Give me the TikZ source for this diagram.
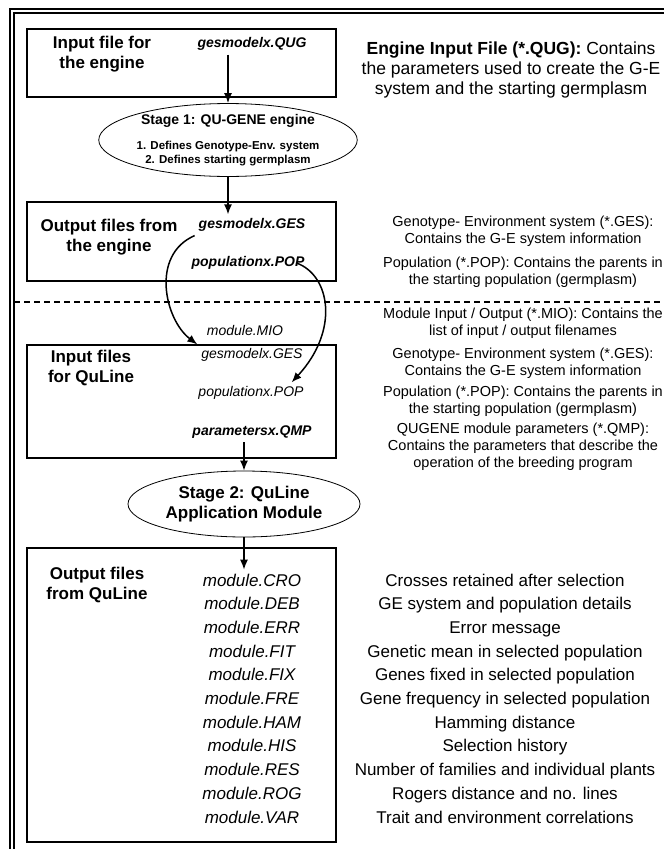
\documentclass[tikz,border=0pt]{standalone}
\usepackage{fontspec}
\setmainfont{Liberation Sans}
\usetikzlibrary{shapes.geometric,arrows.meta}
\begin{document}
\begin{tikzpicture}[
        x=1pt, y=-1pt,
        ->, >={Latex[length=10pt,width=8pt]}, line width=1.5pt,
        filebox/.style={draw, line width=1.3pt, minimum width=309pt, inner sep=0pt},
        stagebox/.style={draw, ellipse, line width=0.8pt, align=center, inner sep=0pt},
        head/.style={align=center, font=\fontsize{17}{20}\selectfont\bfseries},
        fname/.style={font=\fontsize{14}{17}\selectfont\itshape},
        fbold/.style={font=\fontsize{14}{17}\selectfont\bfseries\itshape},
        note/.style={align=center, font=\fontsize{14.5}{17}\selectfont},
        biglist/.style={align=center, font=\fontsize{17}{23.7}\selectfont}
    ]
        \clip (0,0) rectangle (664,849);

        % outer frame (double line)
        \draw[-, line width=2.2pt] (10,849) -- (10,9) -- (664,9);
        \draw[-, line width=1.2pt] (14,849) -- (14,13) -- (664,13);

        % 1. Input file for the engine
        \node[filebox, minimum height=68pt] (inbox) at (181.5, 63) {};
        \node[head] (intitle) at (102, 54) {Input file for\\the engine};
        \node[fbold] (gesqug) at (252, 44) {gesmodelx.QUG};
        \node[align=center, font=\fontsize{17.5}{20}\selectfont] (qugnote) at (511, 70) {
            \textbf{Engine Input File (*.QUG):} Contains\\
            the parameters used to create the G-E\\
            system and the starting germplasm};

        % 2. Stage 1 engine
        \node[stagebox, minimum width=220pt, minimum height=72pt, font=\fontsize{11.5}{14}\selectfont\bfseries] (stage1) at (228, 140) {
            {\fontsize{14}{16}\selectfont Stage 1: QU-GENE engine}\\[11pt]
            1. Defines Genotype-Env. system\\
            2. Defines starting germplasm};

        % 3. Output files from the engine
        \node[filebox, minimum height=79pt] (outbox) at (181.5, 241.5) {};
        \node[head] (outtitle) at (109, 237) {Output files from\\the engine};
        \node[fbold] (gesout) at (252, 225) {gesmodelx.GES};
        \node[fbold] (popout) at (248, 263) {populationx.POP};
        \node[note] (gesoutnote) at (523, 231) {Genotype- Environment system (*.GES):\\Contains the G-E system information};
        \node[note] (popoutnote) at (523, 272) {Population (*.POP): Contains the parents in\\the starting population (germplasm)};

        \draw[-, dashed, dash pattern=on 6pt off 4pt] (14,302) -- (664,302);

        % 4. Input files for QuLine
        \node[fname] (mio) at (245, 330) {module.MIO};
        \node[note] (mionote) at (523, 323) {Module Input / Output (*.MIO): Contains the\\list of input / output filenames};
        \node[filebox, minimum height=113pt] (qinbox) at (181.5, 401.5) {};
        \node[head] (qintitle) at (91, 368) {Input files\\for QuLine};
        \node[fname] (gesin) at (252, 355) {gesmodelx.GES};
        \node[fname] (popin) at (251, 393) {populationx.POP};
        \node[fbold] (qmp) at (252, 432) {parametersx.QMP};
        \node[note] (gesinnote) at (523, 363) {Genotype- Environment system (*.GES):\\Contains the G-E system information};
        \node[note] (popinnote) at (523, 401) {Population (*.POP): Contains the parents in\\the starting population (germplasm)};
        \node[note] (qmpnote) at (523, 447) {QUGENE module parameters (*.QMP):\\Contains the parameters that describe the\\operation of the breeding program};

        % 5. Stage 2 QuLine
        \node[stagebox, minimum width=232pt, minimum height=66pt, font=\fontsize{17}{20}\selectfont\bfseries] (stage2) at (244, 504) {Stage 2: QuLine\\Application Module};

        % 6. Output files from QuLine
        \node[filebox, minimum height=294pt] (qoutbox) at (181.5, 695) {};
        \node[head] (qouttitle) at (97, 585) {Output files\\from QuLine};
        \node[biglist, font=\fontsize{17}{23.7}\selectfont\itshape] (outfiles) at (252, 698.5) {
            module.CRO\\module.DEB\\module.ERR\\module.FIT\\module.FIX\\module.FRE\\
            module.HAM\\module.HIS\\module.RES\\module.ROG\\module.VAR};
        \node[biglist] (outnotes) at (505, 698.5) {
            Crosses retained after selection\\GE system and population details\\Error message\\
            Genetic mean in selected population\\Genes fixed in selected population\\
            Gene frequency in selected population\\Hamming distance\\Selection history\\
            Number of families and individual plants\\Rogers distance and no. lines\\
            Trait and environment correlations};

        % --- connectors ---
        \draw (gesqug.south -| stage1.north) -- (stage1.north);
        \draw (stage1.south) -- (stage1.south |- gesout.north);
        \draw (gesout.south west) .. controls (150,255) and (165,320) .. (gesin.north west);
        \draw ([xshift=-12pt]popout.east) .. controls (330,275) and (340,330) .. ([xshift=-16pt]popin.north east);
        \draw (stage2.north |- qmp.south) -- (stage2.north);
        \draw (stage2.south) -- (stage2.south |- outfiles.north);

    \end{tikzpicture}
\end{document}
